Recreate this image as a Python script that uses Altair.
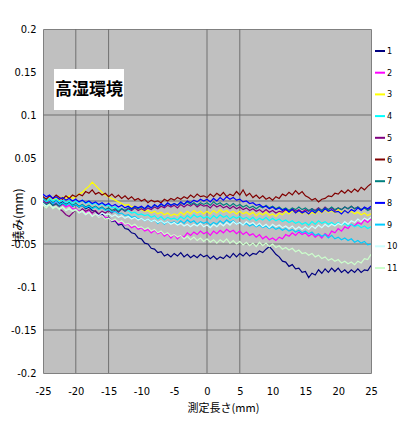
import altair as alt
import pandas as pd

# measurement positions (mm), 0.5 mm pitch from -25 to 25
positions_mm = [round(-25 + 0.5 * i, 1) for i in range(101)]

# deflection values in micrometres (rows of 5 mm)
s1 = [3, 0, 2, -2, 0, -3, -1, -4, -2, -6,
      -4, -7, -5, -9, -7, -11, -12, -16, -15, -20,
      -19, -24, -23, -28, -27, -32, -33, -37, -38, -43,
      -44, -49, -50, -55, -56, -60, -59, -64, -62, -65,
      -61, -64, -60, -65, -62, -66, -63, -66, -62, -65,
      -63, -67, -64, -68, -65, -67, -63, -66, -61, -65,
      -61, -64, -60, -64, -61, -62, -58, -60, -56, -53,
      -57, -62, -65, -70, -71, -76, -74, -79, -78, -83,
      -82, -89, -84, -86, -80, -84, -79, -83, -78, -82,
      -78, -83, -80, -84, -80, -83, -79, -83, -80, -81,
      -75]
s2 = [0, -3, -1, -4, -2, -6, -4, -7, -5, -9,
      -9, -12, -11, -14, -12, -16, -15, -18, -17, -19,
      -20, -23, -22, -26, -25, -28, -27, -31, -29, -33,
      -31, -35, -33, -37, -34, -38, -36, -41, -38, -43,
      -39, -44, -40, -42, -37, -40, -36, -39, -35, -38,
      -36, -40, -35, -38, -34, -37, -33, -36, -34, -38,
      -35, -39, -36, -40, -38, -42, -39, -44, -41, -45,
      -43, -46, -42, -44, -39, -41, -37, -40, -36, -39,
      -37, -41, -38, -42, -39, -43, -38, -41, -35, -37,
      -32, -35, -30, -32, -27, -29, -25, -27, -22, -25,
      -21]
s3 = [2, -1, 3, 0, 4, 1, 5, 2, 6, 3,
      5, 8, 10, 14, 17, 22, 18, 14, 10, 7,
      5, 3, 1, -1, -3, -5, -4, -7, -6, -9,
      -10, -12, -11, -14, -12, -15, -13, -16, -14, -17,
      -15, -17, -13, -16, -12, -15, -11, -14, -12, -15,
      -12, -15, -11, -14, -10, -13, -11, -14, -12, -15,
      -12, -15, -13, -16, -13, -17, -14, -16, -13, -17,
      -15, -18, -14, -16, -12, -15, -11, -14, -12, -15,
      -12, -16, -13, -15, -11, -14, -10, -13, -11, -14,
      -10, -13, -11, -14, -12, -15, -13, -16, -14, -17,
      -15]
s4 = [4, 1, 3, 0, 2, -1, 1, -2, 0, -3,
      0, -2, 1, -3, -1, -4, -2, -5, -3, -6,
      -5, -8, -7, -10, -9, -12, -11, -14, -13, -16,
      -15, -17, -16, -19, -17, -21, -18, -22, -19, -21,
      -20, -22, -18, -21, -17, -20, -16, -19, -17, -20,
      -18, -21, -17, -20, -16, -19, -17, -21, -18, -20,
      -18, -21, -19, -22, -19, -23, -20, -22, -19, -23,
      -20, -23, -21, -24, -22, -25, -23, -26, -24, -27,
      -25, -28, -24, -27, -23, -26, -24, -27, -25, -28,
      -25, -28, -26, -29, -27, -30, -28, -31, -29, -32,
      -30]
s5 = [1, -2, -1, -5, -4, -9, -12, -16, -18, -14,
      -10, -13, -9, -12, -10, -14, -11, -15, -12, -14,
      -11, -14, -10, -13, -9, -12, -9, -11, -8, -11,
      -9, -11, -8, -10, -7, -9, -6, -8, -5, -7,
      -5, -8, -4, -7, -4, -6, -3, -7, -4, -6,
      -5, -8, -4, -7, -5, -8, -6, -9, -6, -9,
      -7, -10, -8, -11, -9, -12, -10, -13, -10, -13,
      -11, -14, -12, -13, -10, -12, -9, -12, -10, -13,
      -10, -12, -9, -11, -8, -11, -7, -10, -8, -11,
      -8, -10, -7, -9, -6, -9, -7, -10, -8, -10,
      -8]
s6 = [5, 2, 6, 3, 7, 4, 2, 6, 3, 7,
      5, 8, 6, 11, 9, 13, 8, 10, 7, 9,
      5, 8, 4, 7, 3, 6, 2, 5, 1, 3,
      0, 2, -2, 1, -1, 0, -2, 2, 0, 3,
      1, 4, 2, 5, 3, 7, 4, 8, 5, 6,
      4, 8, 5, 9, 6, 10, 5, 8, 6, 11,
      7, 13, 6, 9, 4, 7, 3, 6, 2, 4,
      1, 5, 3, 8, 6, 10, 7, 12, 8, 11,
      6, 4, 1, 3, -1, 2, 3, 6, 5, 9,
      8, 12, 9, 13, 10, 14, 11, 16, 13, 17,
      20]
s7 = [-1, -4, -2, -5, -3, -6, -3, -5, -2, -5,
      -3, -6, -4, -7, -5, -8, -6, -9, -7, -10,
      -8, -11, -9, -12, -9, -11, -8, -10, -7, -9,
      -7, -9, -6, -8, -5, -7, -4, -6, -3, -5,
      -3, -5, -2, -4, -1, -4, -2, -5, -2, -4,
      -2, -5, -1, -4, -2, -5, -3, -6, -3, -6,
      -4, -7, -5, -8, -6, -9, -6, -8, -5, -8,
      -6, -9, -7, -10, -8, -11, -8, -10, -7, -10,
      -8, -11, -9, -12, -9, -11, -8, -10, -7, -10,
      -8, -10, -7, -9, -6, -9, -7, -10, -8, -11,
      -9]
s8 = [8, 5, 7, 3, 5, 2, 4, 1, 3, 0,
      2, -1, 1, -2, 0, -3, -1, -4, -2, -5,
      -3, -6, -4, -7, -5, -8, -6, -9, -6, -8,
      -6, -9, -5, -8, -4, -7, -3, -6, -2, -5,
      -3, -5, -1, -4, 0, -2, 1, -1, 2, 0,
      2, -1, 3, 0, 4, 1, 5, 2, 4, 1,
      2, -1, 0, -3, -2, -5, -4, -7, -6, -9,
      -7, -10, -8, -11, -9, -13, -10, -14, -11, -14,
      -12, -15, -11, -14, -10, -13, -9, -12, -10, -13,
      -12, -15, -11, -14, -10, -12, -8, -11, -7, -9,
      -6]
s9 = [2, -1, 1, -3, 0, -4, -2, -5, -3, -6,
      -4, -7, -5, -8, -6, -9, -7, -10, -8, -11,
      -10, -13, -12, -15, -14, -17, -16, -19, -18, -21,
      -20, -23, -21, -24, -22, -26, -23, -27, -24, -26,
      -24, -27, -23, -26, -22, -25, -23, -27, -24, -26,
      -24, -28, -25, -27, -23, -26, -22, -25, -23, -27,
      -25, -28, -26, -29, -27, -30, -28, -31, -29, -32,
      -30, -33, -31, -34, -32, -35, -33, -36, -34, -37,
      -35, -38, -36, -40, -38, -41, -39, -43, -40, -44,
      -42, -45, -43, -46, -44, -48, -46, -49, -47, -51,
      -50]
s10 = [-3, -6, -4, -8, -6, -9, -7, -11, -9, -12,
       -10, -14, -12, -16, -13, -18, -15, -17, -14, -16,
       -15, -18, -16, -19, -17, -20, -18, -21, -19, -22,
       -20, -23, -21, -24, -22, -25, -23, -26, -24, -27,
       -25, -28, -26, -29, -27, -30, -27, -29, -26, -30,
       -28, -31, -27, -30, -26, -29, -25, -28, -24, -27,
       -25, -28, -24, -27, -25, -29, -26, -30, -27, -31,
       -27, -30, -28, -31, -29, -32, -29, -33, -30, -33,
       -30, -33, -29, -32, -28, -31, -27, -30, -27, -29,
       -26, -28, -24, -27, -23, -25, -21, -24, -20, -22,
       -19]
s11 = [-5, -8, -4, -9, -6, -10, -7, -11, -8, -12,
       -10, -13, -11, -15, -13, -17, -15, -19, -17, -21,
       -20, -23, -21, -25, -23, -27, -26, -29, -27, -31,
       -30, -33, -31, -35, -33, -37, -35, -39, -37, -41,
       -39, -42, -40, -44, -41, -45, -42, -46, -43, -47,
       -44, -48, -45, -49, -45, -48, -44, -49, -46, -50,
       -47, -51, -48, -52, -49, -53, -48, -52, -49, -53,
       -50, -54, -52, -56, -54, -57, -55, -59, -57, -61,
       -60, -63, -61, -65, -63, -67, -65, -69, -67, -70,
       -68, -72, -70, -73, -71, -74, -70, -72, -67, -68,
       -62]

series_names = ["1", "2", "3", "4", "5", "6", "7", "8", "9", "10", "11"]
series_values = [s1, s2, s3, s4, s5, s6, s7, s8, s9, s10, s11]
series_colors = ["#000080", "#FF00FF", "#FFFF00", "#00FFFF", "#800080", "#800000",
                 "#008080", "#0000FF", "#00CCFF", "#CCFFFF", "#CCFFCC"]

x_ticks = [-25, -20, -15, -10, -5, 0, 5, 10, 15, 20, 25]
y_ticks = [0.2, 0.15, 0.1, 0.05, 0, -0.05, -0.1, -0.15, -0.2]
grid_x = [-20, -15, 0, 5]
grid_y = [0.1, 0, -0.05, -0.15]
panel_label = ["高湿環境"]

rows = []
for k, (name, vals) in enumerate(zip(series_names, series_values)):
    for xv, v in zip(positions_mm, vals):
        rows.append({"x": xv, "y": v / 1000.0, "series": name, "k": k})
df = pd.DataFrame(rows)

xscale = alt.Scale(domain=[-25, 25], nice=False, zero=False)
yscale = alt.Scale(domain=[-0.2, 0.2], nice=False, zero=False)

narrow = "Liberation Sans Narrow, Arial Narrow, DejaVu Sans Condensed, sans-serif"
cjk = "Noto Sans CJK JP, sans-serif"

x_axis = alt.Axis(
    values=x_ticks, labelExpr="'' + datum.value", grid=False, ticks=False,
    domain=False, labelFont=narrow, labelFontSize=11,
    labelColor="#000000", labelPadding=12, labelFlush=False,
    title="測定長さ(mm)", titleFont=cjk, titleFontSize=11,
    titleFontWeight="normal", titleColor="#000000", titleX=180, titleY=35,
    titleBaseline="middle")
y_axis = alt.Axis(
    values=y_ticks, labelExpr="'' + datum.value", grid=False, ticks=False,
    domain=False, labelFont=narrow, labelFontSize=11,
    labelColor="#000000", labelPadding=7, labelFlush=False,
    title="撓み(mm)", titleFont=cjk, titleFontSize=12,
    titleFontWeight="normal", titleColor="#000000", titleX=-25, titleY=186,
    titleAngle=270, titleBaseline="middle", titleAlign="center")

grid_h = alt.Chart(pd.DataFrame({"y": grid_y})).mark_rule(
    color="#707070", strokeWidth=1
).encode(y=alt.Y("y:Q", scale=yscale, axis=y_axis))

grid_v = alt.Chart(pd.DataFrame({"x": grid_x})).mark_rule(
    color="#707070", strokeWidth=1
).encode(x=alt.X("x:Q", scale=xscale, axis=x_axis))

lines = alt.Chart(df).mark_line(strokeWidth=1.2, clip=True).encode(
    x=alt.X("x:Q", scale=xscale, axis=x_axis),
    y=alt.Y("y:Q", scale=yscale, axis=y_axis),
    color=alt.Color("series:N", sort=series_names,
                    scale=alt.Scale(domain=series_names, range=series_colors),
                    legend=alt.Legend(
                        title=None, orient="none", legendX=331, legendY=16,
                        padding=0, symbolType="stroke", symbolSize=100,
                        symbolStrokeWidth=2, rowPadding=10.7, labelOffset=1,
                        labelFont=narrow, labelFontSize=9, labelColor="#000000")),
    order=alt.Order("k:Q"),
)

label_df = pd.DataFrame({"t": panel_label})
box = alt.Chart(label_df).mark_rect(fill="#FFFFFF").encode(
    x=alt.value(11), x2=alt.value(81), y=alt.value(40), y2=alt.value(81))
text = alt.Chart(label_df).mark_text(
    font=cjk, fontSize=17, fontWeight="bold", color="#000000",
    align="center", baseline="middle"
).encode(x=alt.value(46), y=alt.value(61), text="t:N")

chart = alt.layer(grid_h, grid_v, lines, box, text).properties(
    width=328, height=344,
    padding={"left": 35, "top": 21, "right": 27, "bottom": 41},
    autosize=alt.AutoSizeParams(type="none"),
    background="#FFFFFF",
).configure_view(fill="#C0C0C0", stroke="#808080", strokeWidth=1)

chart.save("out.html", embed_options={"renderer": "svg", "actions": False})
